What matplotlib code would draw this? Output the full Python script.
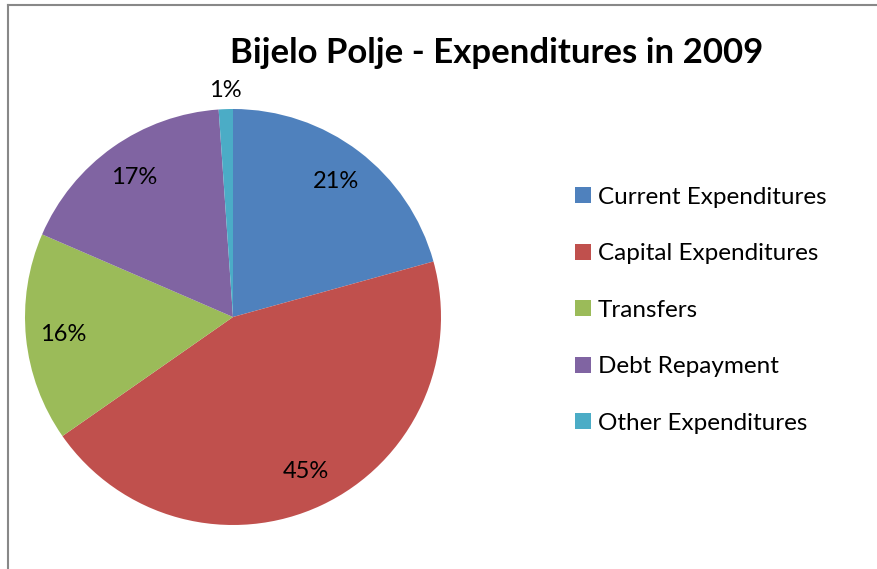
import matplotlib
matplotlib.use("Agg")
import matplotlib.pyplot as plt
from matplotlib.lines import Line2D
from matplotlib.patches import Patch
import numpy as np

plt.rcParams['font.family'] = ['Lato', 'DejaVu Sans']

title = "Bijelo Polje - Expenditures in 2009"
categories = ["Current Expenditures", "Capital Expenditures", "Transfers",
              "Debt Repayment", "Other Expenditures"]
shares = [20.7, 44.6, 16.2, 17.4, 1.1]
colors = ["#4F81BD", "#C0504D", "#9BBB59", "#8064A2", "#4BACC6"]

W, H = 877, 569
fig = plt.figure(figsize=(W / 100, H / 100), dpi=100)

# chart frame (left and top edges)
fig.add_artist(Line2D([7.5 / W, 7.5 / W], [0, 1 - 4.5 / H], transform=fig.transFigure,
                      color="#888888", lw=1.5))
fig.add_artist(Line2D([7.5 / W, 1], [1 - 4.5 / H, 1 - 4.5 / H], transform=fig.transFigure,
                      color="#888888", lw=1.5))

cx, cy, R = 233, 317, 208
ax = fig.add_axes([(cx - R) / W, (H - cy - R) / H, 2 * R / W, 2 * R / H])
wedges, texts, autotexts = ax.pie(
    shares, colors=colors, startangle=90, counterclock=False,
    autopct=lambda p: f"{p:.0f}%", pctdistance=0.82,
    textprops=dict(fontsize=17, color="black"),
    wedgeprops=dict(linewidth=0))
ax.set_xlim(-1, 1)
ax.set_ylim(-1, 1)
ax.set_aspect("equal")
ax.axis("off")

# small slice label sits outside the pie
small = autotexts[-1]
w = wedges[-1]
mid = np.deg2rad((w.theta1 + w.theta2) / 2)
small.set_position((1.09 * np.cos(mid), 1.09 * np.sin(mid)))
for t in autotexts:
    t.set_clip_on(False)

fig.text(497 / W, 1 - 53 / H, title, ha="center", va="center",
         fontsize=25, fontweight="bold")

handles = [Patch(facecolor=c, edgecolor="none") for c in colors]
fig.legend(handles, categories, loc="upper left",
           bbox_to_anchor=(553 / W, 1 - 165 / H), frameon=False,
           fontsize=17.5, handlelength=0.65, handleheight=0.65,
           handletextpad=0.3, labelspacing=1.46)

fig.savefig("out.png", dpi=100)
